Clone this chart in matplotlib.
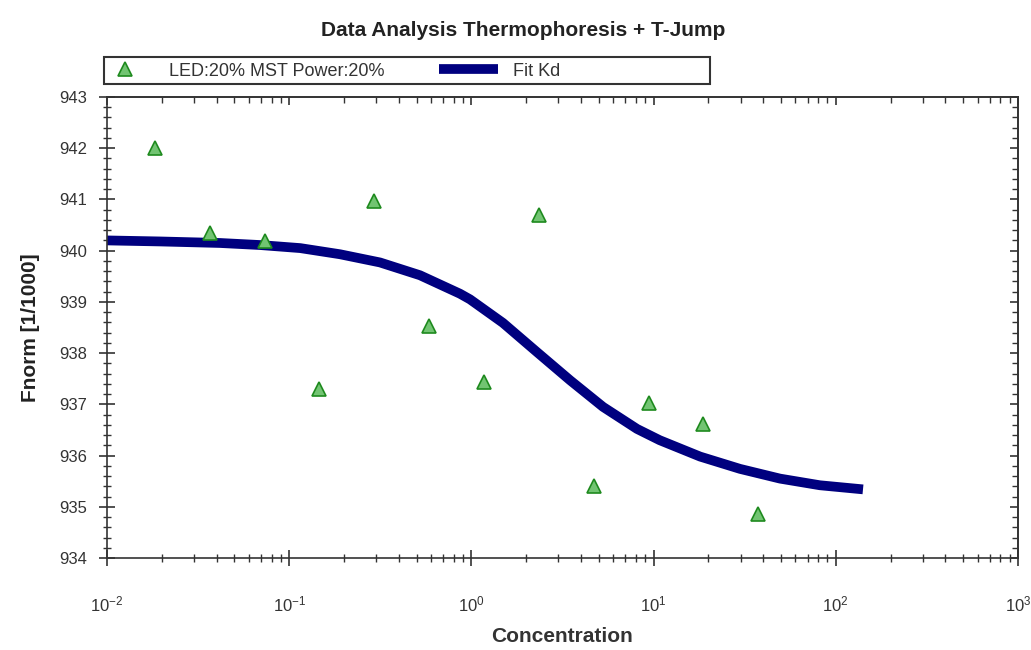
import matplotlib.pyplot as plt
from matplotlib.patches import Rectangle
from matplotlib.ticker import LogLocator, MultipleLocator, NullFormatter

# measured points
conc = [0.0183, 0.0366, 0.0732, 0.146, 0.293, 0.586, 1.17, 2.34, 4.69, 9.38, 18.75, 37.5]
fnorm = [942.0, 940.34, 940.19, 937.30, 940.97, 938.53, 937.43, 940.70, 935.40, 937.02, 936.61, 934.86]

# fit curve
fit_conc = [0.01, 0.0195, 0.0417, 0.0691, 0.115, 0.190, 0.315, 0.522, 0.865, 0.982, 1.49,
            2.29, 3.48, 5.28, 8.11, 10.8, 18.0, 29.8, 49.4, 81.8, 141]
fit_fnorm = [940.20, 940.18, 940.15, 940.11, 940.05, 939.93, 939.77, 939.52, 939.16, 939.05,
             938.59, 938.02, 937.47, 936.95, 936.52, 936.30, 935.98, 935.74, 935.55, 935.42, 935.34]

plt.rcParams['font.family'] = ['Liberation Sans', 'DejaVu Sans']
axcol = '#333333'

fig = plt.figure(figsize=(10.31, 6.5), dpi=100)
ax = fig.add_axes([107 / 1031, 1 - 558 / 650, (1018 - 107) / 1031, (558 - 97) / 650])

fit_line, = ax.plot(fit_conc, fit_fnorm, color='#00007f', lw=7, solid_capstyle='butt',
                    solid_joinstyle='round', zorder=2)
pts, = ax.plot(conc, fnorm, ls='none', marker='^', ms=10, mfc='#72c472', mec='#1e8a1e',
               mew=1.2, zorder=3)

ax.set_xscale('log')
ax.set_xlim(0.01, 1000)
ax.set_ylim(934, 943)
ax.yaxis.set_major_locator(MultipleLocator(1))
ax.yaxis.set_minor_locator(MultipleLocator(0.2))
ax.xaxis.set_major_locator(LogLocator(base=10, numticks=10))
ax.xaxis.set_minor_locator(LogLocator(base=10, subs=range(2, 10), numticks=10))
ax.xaxis.set_minor_formatter(NullFormatter())

for s in ax.spines.values():
    s.set_linewidth(1.2)
    s.set_color(axcol)
ax.tick_params(which='both', direction='inout', colors=axcol, labelcolor=axcol, labelsize=12)
ax.tick_params(which='major', length=12, width=1.2)
ax.tick_params(which='minor', length=6, width=1.0)
ax.tick_params(axis='x', which='major', pad=20)
ax.tick_params(axis='y', which='major', pad=8)

# top and right: inward ticks only
top = ax.secondary_xaxis('top')
top.xaxis.set_major_locator(LogLocator(base=10, numticks=10))
top.xaxis.set_minor_locator(LogLocator(base=10, subs=range(2, 10), numticks=10))
right = ax.secondary_yaxis('right')
right.yaxis.set_major_locator(MultipleLocator(1))
right.yaxis.set_minor_locator(MultipleLocator(0.2))
for sec in (top, right):
    sec.tick_params(which='both', direction='in', colors=axcol, labeltop=False, labelright=False)
    sec.tick_params(which='major', length=6, width=1.2)
    sec.tick_params(which='minor', length=4, width=1.0)
    for s in sec.spines.values():
        s.set_linewidth(1.2)
        s.set_color(axcol)

ax.set_xlabel('Concentration', fontsize=15, fontweight='bold', color=axcol, labelpad=9)
ax.set_ylabel('Fnorm [1/1000]', fontsize=15, fontweight='bold', color='#222222', labelpad=14)
fig.text(0.507, 0.953, 'Data Analysis Thermophoresis + T-Jump', ha='center', va='center',
         fontsize=15, fontweight='bold', color='#222222')

leg = fig.legend([pts, fit_line], ['LED:20% MST Power:20%', 'Fit Kd'], ncol=2,
                 loc='center left', bbox_to_anchor=(95 / 1031, 1 - 71 / 650),
                 fontsize=13, frameon=False, handlelength=3.3, handletextpad=0.8,
                 borderpad=0, columnspacing=3.0, borderaxespad=0)
for t in leg.get_texts():
    t.set_color(axcol)
fig.patches.append(Rectangle((104 / 1031, 1 - 84 / 650), (710 - 104) / 1031, 27 / 650,
                             transform=fig.transFigure, fill=False, edgecolor=axcol, lw=1.5))

fig.savefig('out.png', dpi=100)
